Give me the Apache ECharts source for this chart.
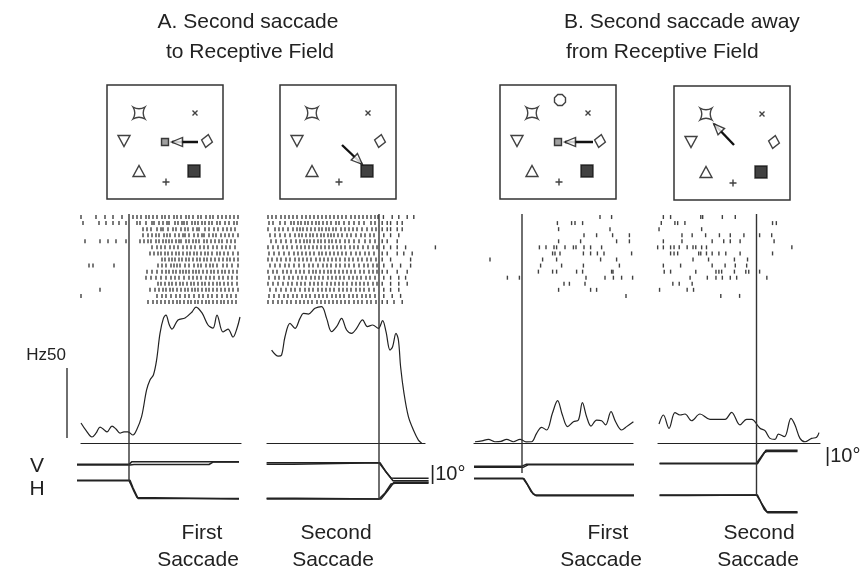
<!DOCTYPE html>
<html><head><meta charset="utf-8">
<script src="https://cdn.jsdelivr.net/npm/echarts@6/dist/echarts.min.js"></script>
<style>html,body{margin:0;padding:0;background:#fff}#c{width:860px;height:576px}</style>
</head><body><div id="c"></div>
<script>
// ---------------- DATA ----------------
const saccadeOnset = 0;           // ms, alignment event
const hzScaleBar = 50;            // Hz
const eyeScaleLabel = '|10°';

// Spike density functions: [time ms, rate Hz]
const sdfA1 = [[-240,14.3],[-215,9],[-185,4.3],[-165,7],[-145,11.4],[-125,9.5],[-110,7.9],[-85,12.1],[-65,10],[-45,7.1],[-25,8],[-5,7.9],[20,5.7],[38,9.3],[63,18.8],[88,37.9],[105,45],[122,48.6],[138,59.3],[155,78.3],[172,89],[185,91.4],[200,85],[215,81.4],[245,87.9],[280,89.3],[315,93.6],[335,97.1],[365,92.9],[395,84.3],[420,82.1],[440,91.4],[470,79.3],[495,81.4],[520,75.7],[540,82],[555,90]];
const sdfA2 = [[-537,66.4],[-503,62.1],[-487,62.9],[-470,75.9],[-445,85.5],[-420,81.9],[-395,89],[-378,92.6],[-353,92.1],[-320,96.2],[-287,97.4],[-262,89],[-237,79.5],[-212,83.1],[-187,89],[-162,80.7],[-137,78.3],[-112,81.9],[-82,87.9],[-58,83.1],[-32,84.3],[-3,81.9],[18,87.4],[35,79.5],[55,66.4],[68,68.8],[85,78.3],[97,73.6],[108,54.5],[125,35.5],[147,18.8],[172,9.3],[197,2.1],[213,0]];
const sdfB1 = [[-235,0.9],[-200,1.5],[-168,2.6],[-135,0.9],[-105,1.2],[-77,2.6],[-43,0.9],[-10,2.6],[20,0.8],[48,0.9],[73,6.9],[98,11.2],[123,9.3],[152,21.2],[178,30.2],[202,20],[228,11.7],[257,15.2],[282,16.4],[302,28.8],[323,18.8],[345,12.1],[373,16.4],[398,15.9],[418,12.9],[445,22.4],[468,15.2],[498,9.3],[523,11.7],[557,15.2]];
const sdfB2 = [[-570,13.6],[-548,20],[-520,10.5],[-490,21.7],[-465,20],[-440,20.7],[-407,15.9],[-365,20.7],[-315,16.9],[-240,16.9],[-207,21.9],[-165,12.9],[-132,16.9],[-107,16.9],[-65,10.5],[-40,8.8],[-15,3.3],[10,2.6],[27,6.4],[57,4.5],[90,17.6],[110,12.9],[135,3.3],[160,0.9],[193,3.3],[218,4.1],[230,7.4]];

// Rasters: spike times (ms) per trial
const rasterA1 = [
 [-240,-165,-120,-80,-35,20,40,60,85,100,120,140,165,180,200,225,240,260,285,300,320,345,360,385,405,420,445,465,485,505,525,545],
 [-230,-150,-115,-80,-50,-15,40,55,85,115,125,150,170,190,200,230,245,265,275,290,315,330,345,365,380,400,415,440,455,480,500,525,540],
 [70,90,110,140,160,170,195,220,235,260,280,295,320,340,350,380,400,425,445,470,490,510,530],
 [70,95,115,135,150,175,190,205,230,250,270,280,300,325,345,365,375,400,420,435,460,480,500,520,545],
 [-220,-145,-105,-65,-15,55,75,95,110,135,150,170,185,200,215,235,250,260,285,300,320,335,350,375,390,410,430,450,465,490,510,530],
 [115,140,160,180,205,225,245,270,290,310,330,355,375,395,420,440,465,485,505,530],
 [105,125,145,160,180,195,215,235,250,270,290,305,325,340,360,380,395,415,440,455,475,495,520,545],
 [165,180,200,215,230,250,265,285,300,320,340,355,375,390,410,430,450,470,490,505,525,545],
 [-200,-180,-75,145,165,185,210,225,240,255,280,300,325,345,360,385,405,420,440,470,490,515,545],
 [90,115,140,165,185,200,220,235,255,270,285,300,320,335,350,370,390,410,425,445,465,480,500,520,540],
 [85,110,135,160,185,210,230,250,275,300,320,340,360,385,405,425,450,470,495,515,540],
 [145,160,180,200,215,235,255,270,290,310,325,345,365,380,400,420,440,455,475,495,515,540],
 [-145,105,130,150,170,185,205,220,240,260,280,295,315,330,345,365,385,400,420,440,460,480,500,520,545],
 [-240,140,165,185,210,235,255,280,300,325,350,370,395,415,440,465,490,510,535],
 [95,120,140,160,180,200,220,240,255,275,295,310,330,345,365,385,400,420,440,460,475,495,515,535]
];
const rasterA2 = [
 [-555,-535,-515,-490,-470,-450,-430,-410,-385,-365,-345,-325,-305,-285,-265,-245,-225,-205,-185,-165,-140,-120,-100,-80,-60,-40,-20,-5,22,66,99,141,174],
 [-550,-530,-495,-470,-440,-425,-405,-390,-370,-355,-335,-315,-300,-280,-260,-240,-215,-200,-175,-150,-125,-100,-75,-40,-20,16,41,58,91,116],
 [-555,-520,-500,-480,-455,-430,-410,-395,-380,-360,-340,-320,-300,-285,-265,-250,-230,-215,-190,-170,-150,-130,-110,-85,-60,-35,-15,16,41,58,91,116],
 [-545,-520,-495,-470,-445,-420,-400,-385,-365,-345,-330,-310,-290,-275,-255,-240,-225,-205,-185,-160,-140,-115,-90,-70,-45,-25,24,58,99],
 [-540,-515,-490,-465,-440,-415,-395,-375,-360,-345,-325,-305,-290,-270,-250,-235,-215,-195,-170,-150,-125,-100,-70,-45,-20,16,41,91],
 [-555,-530,-505,-480,-460,-435,-410,-390,-370,-350,-330,-310,-290,-270,-250,-230,-210,-190,-170,-145,-125,-105,-80,-55,-30,-10,24,58,91,133,282],
 [-550,-525,-500,-475,-450,-425,-405,-385,-365,-345,-325,-300,-285,-265,-245,-225,-205,-185,-165,-140,-115,-95,-70,-50,-25,16,41,91,124,166],
 [-555,-535,-510,-490,-465,-445,-420,-400,-380,-360,-340,-315,-295,-275,-255,-235,-215,-195,-170,-150,-130,-105,-85,-60,-40,-15,16,58,158],
 [-545,-520,-495,-470,-450,-425,-400,-375,-350,-330,-305,-280,-260,-240,-215,-195,-170,-150,-125,-100,-75,-55,-30,-10,24,66,108,158],
 [-555,-530,-510,-480,-460,-440,-415,-395,-375,-350,-330,-315,-295,-275,-255,-240,-220,-200,-180,-160,-140,-120,-95,-75,-50,-30,-10,16,41,91,141],
 [-550,-520,-500,-475,-450,-430,-405,-385,-365,-340,-320,-300,-280,-255,-235,-215,-195,-175,-150,-130,-110,-90,-65,-45,-20,24,58,99,133],
 [-555,-530,-505,-480,-455,-435,-410,-390,-370,-345,-325,-305,-285,-260,-240,-220,-200,-180,-160,-135,-115,-95,-75,-55,-30,-10,16,58,99,141],
 [-545,-515,-490,-465,-440,-420,-395,-370,-350,-330,-305,-285,-265,-245,-225,-200,-180,-160,-140,-115,-95,-75,-50,-25,24,58,99],
 [-550,-525,-500,-475,-455,-430,-410,-385,-365,-345,-320,-300,-280,-260,-235,-215,-195,-175,-150,-130,-110,-85,-65,-45,-20,24,66,108],
 [-555,-530,-505,-485,-460,-440,-415,-395,-375,-355,-335,-310,-290,-270,-250,-230,-210,-190,-170,-150,-125,-105,-85,-60,-40,-15,16,41,75,116]
];
const rasterB1 = [
 [390,448],
 [177,248,265,303],
 [183,440],
 [310,373,453,537],
 [183,293,473,537],
 [87,120,160,173,215,257,270,310,343,398],
 [153,165,190,307,343,377,410,548],
 [-160,103,173,393,473],
 [93,198,307,487],
 [82,153,173,273,303,448,455],
 [-73,-13,320,415,457,498,553],
 [210,237,315],
 [183,343,373],
 [520],
 []
];
const rasterB2 = [
 [-540,-498,-323,-312,-198,-123],
 [-552,-473,-457,-415,93,115],
 [-565,-318],
 [-432,-373,-295,-215,-152,-73,18,88],
 [-540,-432,-257,-190,-152,-95,102],
 [-573,-540,-498,-478,-448,-402,-368,-352,-318,-290,205],
 [-498,-478,-457,-335,-323,-290,-257,-218,-178,-95,93],
 [-368,-278,-128,-52],
 [-540,-440,-257,-182,-123,-57],
 [-535,-498,-352,-235,-218,-202,-128,-62,-45,18],
 [-385,-285,-235,-198,-152,-115,60],
 [-485,-448,-373],
 [-562,-402,-365],
 [-207,-98],
 []
];

// Eye position traces: [time ms, position deg] (V and H, two trials each)
const eyeA1V = [[[-260,37.1],[0,37.1],[15,38.9],[550,38.9]],[[-260,36.7],[5,36.7],[25,37.0],[400,37.0],[420,38.6],[550,38.6]]];
const eyeA1H = [[[-260,26.2],[0,26.2],[10,23.5],[25,19],[40,15],[50,14],[550,14]],[[-260,26.5],[5,26.5],[20,21.5],[45,14.4],[550,14.4]]];
const eyeA2V = [[[-562,38.2],[0,38.2],[30,33],[60,28],[80,27.8],[248,27.8]],[[-562,37.1],[-430,37.1],[-420,38.2],[5,38.2],[35,32],[70,26.2],[248,26.2]]];
const eyeA2H = [[[-562,14],[0,14],[30,18],[60,24],[80,24.5],[248,24.5]],[[-562,14.5],[-420,14.5],[-410,14],[10,14],[40,19],[75,25.2],[248,25.2]]];
const eyeB1V = [[[-240,35.9],[0,35.9],[20,37.1],[560,37.1]],[[-240,35.1],[5,35.1],[30,36.8],[560,36.8]]];
const eyeB1H = [[[-240,27.8],[5,27.8],[25,24],[45,19],[65,16.7],[560,16.7]],[[-240,27.5],[10,27.5],[35,22],[55,17.5],[70,16.2],[560,16.2]]];
const eyeB2V = [[[-562,37.8],[0,37.8],[20,41],[45,45],[60,45.6],[238,45.6]],[[-562,37.5],[5,37.5],[30,42],[55,46.5],[238,46.5]]];
const eyeB2H = [[[-562,16.7],[0,16.7],[20,13],[45,7],[65,4.9],[238,4.9]],[[-562,16.3],[-400,16.3],[-390,16.7],[5,16.7],[30,11],[60,5.5],[238,5.5]]];

// Stimulus display: item names and positions (display units)
const stimNames = ['star','cross','triDown','fixation','diamond','triUp','square','plus','flower'];
const stimX =     [32, 88, 17, 58, 100, 32, 87, 59, 60];
const stimY =     [28, 28, 56, 57, 56, 86, 86, 97, 15];
const stimA1 = ['star','cross','triDown','fixation','diamond','triUp','square','plus'];
const stimA2 = ['star','cross','triDown','diamond','triUp','square','plus'];
const stimB1 = ['flower','star','cross','triDown','fixation','diamond','triUp','square','plus'];
const stimB2 = ['star','cross','triDown','diamond','triUp','square','plus'];
const arrowA1 = [[91,57],[65,57]];
const arrowA2 = [[62,60],[82,79]];
const arrowB1 = [[93,57],[65,57]];
const arrowB2 = [[60,59],[40,38]];

// Text
const titleA = ['A. Second saccade','to Receptive Field'];
const titleB = ['B. Second saccade away','from Receptive Field'];
const panelLabels = [['First','Saccade'],['Second','Saccade'],['First','Saccade'],['Second','Saccade']];
const rateLabel = 'Hz50';
const eyeLabels = ['V','H'];

// ---------------- LAYOUT / STYLE ----------------
const PX = 0.2; // px per ms
const FONT = '"Liberation Sans", Arial, Helvetica, sans-serif';
const INK = '#222';
const panels = [
 {zeroX:129, sdfRange:[-240,560], frameBottom:481, raster:rasterA1, sdf:sdfA1, eyeV:eyeA1V, eyeH:eyeA1H, box:[107,85], stim:stimA1, arrow:arrowA1, label:[202,198]},
 {zeroX:379, sdfRange:[-560,230], frameBottom:499, raster:rasterA2, sdf:sdfA2, eyeV:eyeA2V, eyeH:eyeA2H, box:[280,85], stim:stimA2, arrow:arrowA2, label:[336,333]},
 {zeroX:522, sdfRange:[-240,555], frameBottom:473, raster:rasterB1, sdf:sdfB1, eyeV:eyeB1V, eyeH:eyeB1H, box:[500,85], stim:stimB1, arrow:arrowB1, label:[608,601]},
 {zeroX:773, sdfRange:[-575,235], frameBottom:495, raster:rasterB2, sdf:sdfB2, eyeV:eyeB2V, eyeH:eyeB2H, box:[674,86], stim:stimB2, arrow:arrowB2, label:[759,758]}
];
const stimStyle = {
 star:    {symbol:'path://M0,0 Q5,3 10,0 Q7,5 10,10 Q5,7 0,10 Q3,5 0,0 Z', size:12, fill:'#fff'},
 cross:   {symbol:'path://M0,0 L10,10 M10,0 L0,10', size:5, fill:'#fff'},
 triDown: {symbol:'path://M0,0 L10,0 L5,9 Z', size:[12,11], fill:'#fff'},
 fixation:{symbol:'rect', size:7, fill:'#888'},
 diamond: {symbol:'diamond', size:[11,13], fill:'#fff', rotate:-12},
 triUp:   {symbol:'triangle', size:[12,11], fill:'#fff'},
 square:  {symbol:'rect', size:12, fill:'#111'},
 plus:    {symbol:'path://M5,0 L5,10 M0,5 L10,5', size:7, fill:'#fff'},
 flower:  {symbol:'path://M3,0 L7,0 L10,3 L10,7 L7,10 L3,10 L0,7 L0,3 Z', size:11, fill:'#fff'}
};
const BOX_W = 116, BOX_H = 114;
const nRows = 15;
const rasterTop = 214, rasterH = 91;
const sdfTop = 303, sdfH = 140, sdfMaxHz = 100;
const eyeTop = 445, eyeH = 75, eyeMaxDeg = 50;

const grids = [], xAxes = [], yAxes = [], series = [];
function addGrid(g, x, y) {
  grids.push(g); const i = grids.length - 1;
  xAxes.push(Object.assign({gridIndex:i, type:'value', show:false}, x));
  yAxes.push(Object.assign({gridIndex:i, type:'value', show:false}, y));
  return i;
}

panels.forEach(p => {
  // raster
  const gR = addGrid({left:p.zeroX - 600*PX, width:1200*PX, top:rasterTop, height:rasterH},
                     {min:-600, max:600}, {min:-0.5, max:nRows - 0.5, inverse:true});
  const pts = [];
  p.raster.forEach((row, i) => row.forEach(t => pts.push([t, i])));
  series.push({type:'scatter', xAxisIndex:gR, yAxisIndex:gR, data:pts, symbol:'rect', symbolSize:[1.4,4],
    itemStyle:{color:'#111'}, silent:true, clip:false});

  // SDF
  const gS = addGrid({left:p.zeroX + p.sdfRange[0]*PX, width:(p.sdfRange[1]-p.sdfRange[0])*PX, top:sdfTop, height:sdfH},
    {min:p.sdfRange[0], max:p.sdfRange[1], show:true, axisLine:{show:true, onZero:false, lineStyle:{color:INK, width:1.2}},
     axisTick:{show:false}, axisLabel:{show:false}, splitLine:{show:false}},
    {min:0, max:sdfMaxHz});
  series.push({type:'line', xAxisIndex:gS, yAxisIndex:gS, data:p.sdf, smooth:0.35, showSymbol:false, symbol:'none',
    lineStyle:{color:INK, width:1.2}, silent:true, clip:false});

  // eye traces
  const gE = addGrid({left:p.zeroX - 600*PX, width:1200*PX, top:eyeTop, height:eyeH},
                     {min:-600, max:600}, {min:0, max:eyeMaxDeg});
  [...p.eyeV, ...p.eyeH].forEach(tr => series.push({type:'line', xAxisIndex:gE, yAxisIndex:gE, data:tr, showSymbol:false,
    symbol:'none', lineStyle:{color:INK, width:1.5}, silent:true}));

  // alignment line
  const gF = addGrid({left:p.zeroX - 600*PX, width:1200*PX, top:214, height:p.frameBottom - 214},
                     {min:-600, max:600}, {min:0, max:1});
  series.push({type:'line', xAxisIndex:gF, yAxisIndex:gF, data:[[saccadeOnset,0],[saccadeOnset,1]], showSymbol:false,
    symbol:'none', lineStyle:{color:'#333', width:1.4}, silent:true});

  // stimulus box
  const gB = addGrid({left:p.box[0], top:p.box[1], width:BOX_W, height:BOX_H, show:true, borderColor:'#333', borderWidth:1.5, backgroundColor:'#fff'},
                     {min:0, max:BOX_W}, {min:0, max:BOX_H, inverse:true});
  const items = p.stim.map(n => {
    const k = stimNames.indexOf(n), s = stimStyle[n];
    return {value:[stimX[k], stimY[k]], symbol:s.symbol, symbolSize:s.size, symbolRotate:s.rotate || 0,
      itemStyle:{color:s.fill, borderColor:'#111', borderWidth:1.4}};
  });
  series.push({type:'scatter', xAxisIndex:gB, yAxisIndex:gB, data:items, silent:true, z:3});
  const [a0, a1] = p.arrow;
  series.push({type:'line', xAxisIndex:gB, yAxisIndex:gB, data:[a0, a1], showSymbol:false, symbol:'none',
    lineStyle:{color:'#111', width:2.4}, silent:true, z:3});
  const dx = a1[0]-a0[0], dy = a1[1]-a0[1], L = Math.hypot(dx, dy);
  const rot = Math.atan2(-dy, dx) * 180 / Math.PI - 90;
  const hc = [a1[0] - dx/L*5, a1[1] - dy/L*5];
  series.push({type:'scatter', xAxisIndex:gB, yAxisIndex:gB, data:[hc], symbol:'path://M5,0 L10,10 L0,10 Z',
    symbolSize:[9,11], symbolRotate:rot, itemStyle:{color:'#fff', borderColor:'#111', borderWidth:1.4}, silent:true, z:4});
});

// Hz scale bar (first panel)
const gH = addGrid({left:57, width:20, top:sdfTop, height:sdfH}, {min:-1, max:1}, {min:0, max:sdfMaxHz});
series.push({type:'line', xAxisIndex:gH, yAxisIndex:gH, data:[[0,3.6],[0,3.6 + hzScaleBar]], showSymbol:false, symbol:'none',
  lineStyle:{color:INK, width:1.3}, silent:true});

// Texts
function txt(text, x, y, size, align) {
  return {type:'text', x:x, y:y, silent:true, z:10,
    style:{text:text, font:size + 'px ' + FONT, fill:INK, textAlign:align || 'center', textVerticalAlign:'middle', verticalAlign:'middle'}};
}
const graphic = [
  txt(titleA[0], 248, 22, 21), txt(titleA[1], 250, 52, 21),
  txt(titleB[0], 564, 22, 21, 'left'), txt(titleB[1], 566, 52, 21, 'left'),
  txt(rateLabel, 66, 355, 17, 'right'),
  txt(eyeLabels[0], 37, 466, 21), txt(eyeLabels[1], 37, 489, 21),
  txt(eyeScaleLabel, 430, 474, 20, 'left'),
  txt(eyeScaleLabel, 825, 456, 20, 'left')
];
panels.forEach((p, i) => {
  graphic.push(txt(panelLabels[i][0], p.label[0], 533, 21));
  graphic.push(txt(panelLabels[i][1], p.label[1], 560, 21));
});

const chart = echarts.init(document.getElementById('c'));
chart.setOption({animation:false, backgroundColor:'#fff', grid:grids, xAxis:xAxes, yAxis:yAxes, series:series, graphic:graphic});
</script>
</body></html>
